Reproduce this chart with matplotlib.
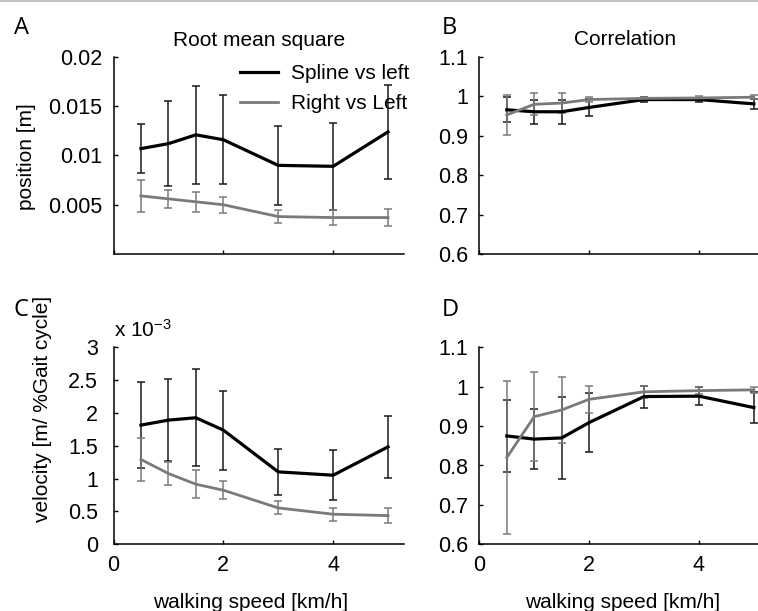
import matplotlib
matplotlib.use('Agg')
import matplotlib.pyplot as plt
from matplotlib.lines import Line2D

plt.rcParams['font.family'] = ['Liberation Sans', 'DejaVu Sans']
plt.rcParams['mathtext.default'] = 'regular'

# walking speeds [km/h]
speeds = [0.5, 1, 1.5, 2, 3, 4, 5]

# A: position RMS [m]
pos_rms_spline = [0.0107, 0.0112, 0.0121, 0.0116, 0.0090, 0.0089, 0.0124]
pos_rms_spline_sd = [0.0025, 0.0043, 0.0050, 0.0045, 0.0040, 0.0044, 0.0048]
pos_rms_right = [0.0059, 0.0056, 0.0053, 0.0050, 0.0038, 0.0037, 0.0037]
pos_rms_right_sd = [0.0016, 0.0009, 0.0010, 0.0008, 0.0007, 0.0008, 0.0009]

# B: position correlation
pos_corr_spline = [0.966, 0.961, 0.961, 0.972, 0.992, 0.992, 0.981]
pos_corr_spline_sd = [0.032, 0.030, 0.031, 0.021, 0.006, 0.005, 0.013]
pos_corr_right = [0.953, 0.980, 0.983, 0.992, 0.995, 0.996, 0.998]
pos_corr_right_sd = [0.050, 0.028, 0.025, 0.006, 0.004, 0.004, 0.005]

# C: velocity RMS [x 10^-3 m / %gait cycle]
vel_rms_spline = [1.815, 1.891, 1.927, 1.739, 1.103, 1.052, 1.484]
vel_rms_spline_sd = [0.65, 0.62, 0.74, 0.60, 0.35, 0.38, 0.47]
vel_rms_right = [1.292, 1.078, 0.915, 0.824, 0.554, 0.458, 0.437]
vel_rms_right_sd = [0.33, 0.18, 0.21, 0.14, 0.10, 0.10, 0.11]

# D: velocity correlation
vel_corr_spline = [0.875, 0.867, 0.870, 0.909, 0.975, 0.976, 0.947]
vel_corr_spline_sd = [0.092, 0.076, 0.105, 0.076, 0.028, 0.022, 0.040]
vel_corr_right = [0.820, 0.924, 0.941, 0.968, 0.987, 0.990, 0.992]
vel_corr_right_sd = [0.195, 0.113, 0.084, 0.035, 0.015, 0.008, 0.008]

series_labels = ['Spline vs left', 'Right vs Left']
corr_ticks = [0.6, 0.7, 0.8, 0.9, 1.0, 1.1]
corr_ticklabels = ['0.6', '0.7', '0.8', '0.9', '1', '1.1']

W, H = 758, 611
fig = plt.figure(figsize=(W / 100, H / 100), dpi=100)

BLACK = '#000000'
GRAY = '#7a7a7a'
FS = 15


def make_axes(left, top, width=291, height=197):
    return fig.add_axes([left / W, 1 - (top + height) / H, width / W, height / H])


def draw(ax, y1, e1, y2, e2):
    ax.errorbar(speeds, y1, yerr=e1, color=BLACK, lw=2.3, ecolor='#1a1a1a',
                elinewidth=1.1, capsize=3.2, capthick=1.1)
    ax.errorbar(speeds, y2, yerr=e2, color=GRAY, lw=2.0, ecolor=GRAY,
                elinewidth=1.1, capsize=3.2, capthick=1.1)
    for s in ['top', 'right']:
        ax.spines[s].set_visible(False)
    for s in ['left', 'bottom']:
        ax.spines[s].set_linewidth(1.1)
    ax.set_xlim(0, 5.3)
    ax.set_xticks([0, 2, 4])
    ax.tick_params(direction='in', length=3, width=1, labelsize=FS + 0.5)


axA = make_axes(113.5, 57)
axB = make_axes(479.3, 57)
axC = make_axes(113.5, 347.3)
axD = make_axes(479.3, 347.3)

draw(axA, pos_rms_spline, pos_rms_spline_sd, pos_rms_right, pos_rms_right_sd)
draw(axB, pos_corr_spline, pos_corr_spline_sd, pos_corr_right, pos_corr_right_sd)
draw(axC, vel_rms_spline, vel_rms_spline_sd, vel_rms_right, vel_rms_right_sd)
draw(axD, vel_corr_spline, vel_corr_spline_sd, vel_corr_right, vel_corr_right_sd)

axA.set_ylim(0, 0.02)
axA.set_yticks([0.005, 0.01, 0.015, 0.02])
axA.set_yticklabels(['0.005', '0.01', '0.015', '0.02'])
axA.tick_params(axis='y', pad=8)
axA.tick_params(axis='x', labelbottom=False)

for ax in [axB, axD]:
    ax.set_ylim(0.6, 1.1)
    ax.set_yticks(corr_ticks)
    ax.set_yticklabels(corr_ticklabels)
    ax.tick_params(axis='y', pad=8)
axB.tick_params(axis='x', labelbottom=False)

axC.set_ylim(0, 3)
axC.set_yticks([0, 0.5, 1, 1.5, 2, 2.5, 3])
axC.set_yticklabels(['0', '0.5', '1', '1.5', '2', '2.5', '3'])
axC.tick_params(axis='y', pad=11)
for ax in [axC, axD]:
    ax.tick_params(axis='x', pad=8)

axC.text(0.0, 1.055, 'x 10$^{-3}$', transform=axC.transAxes, ha='left',
         va='baseline', fontsize=FS)

axA.text(0.5, 1.086, 'Root mean square', transform=axA.transAxes,
         ha='center', va='center', fontsize=FS)
axB.text(0.5, 1.088, 'Correlation', transform=axB.transAxes,
         ha='center', va='center', fontsize=FS)

handles = [Line2D([], [], color=BLACK, lw=2.3), Line2D([], [], color=GRAY, lw=2.0)]
axA.legend(handles, series_labels, loc='upper left', bbox_to_anchor=(0.433, 0.965),
           frameon=False, fontsize=FS, handlelength=1.85, handletextpad=0.62,
           labelspacing=0.55, borderpad=0, borderaxespad=0)

# axis labels
fig.text(26.5 / W, 1 - 157 / H, 'position [m]', rotation=90,
         ha='center', va='center', fontsize=FS)
fig.text(43 / W, 1 - 409 / H, 'velocity [m/ %Gait cycle]', rotation=90,
         ha='center', va='center', fontsize=FS)
fig.text(251 / W, 3 / H, 'walking speed [km/h]', ha='center',
         va='baseline', fontsize=FS)
fig.text(622.5 / W, 3 / H, 'walking speed [km/h]', ha='center',
         va='baseline', fontsize=FS)

# panel letters
for letter, (px, py) in zip(['A', 'B', 'C', 'D'],
                            [(21, 28.5), (449, 28), (21, 310.5), (450, 310)]):
    fig.text(px / W, 1 - py / H, letter, ha='center', va='center',
             fontsize=17, family=['Open Sans', 'DejaVu Sans'])

# thin rule at the top edge
fig.add_artist(Line2D([0, 1], [1 - 0.8 / H, 1 - 0.8 / H], color='#b4b4b4',
                      lw=1.2, transform=fig.transFigure))

fig.savefig('out.png', dpi=100)
